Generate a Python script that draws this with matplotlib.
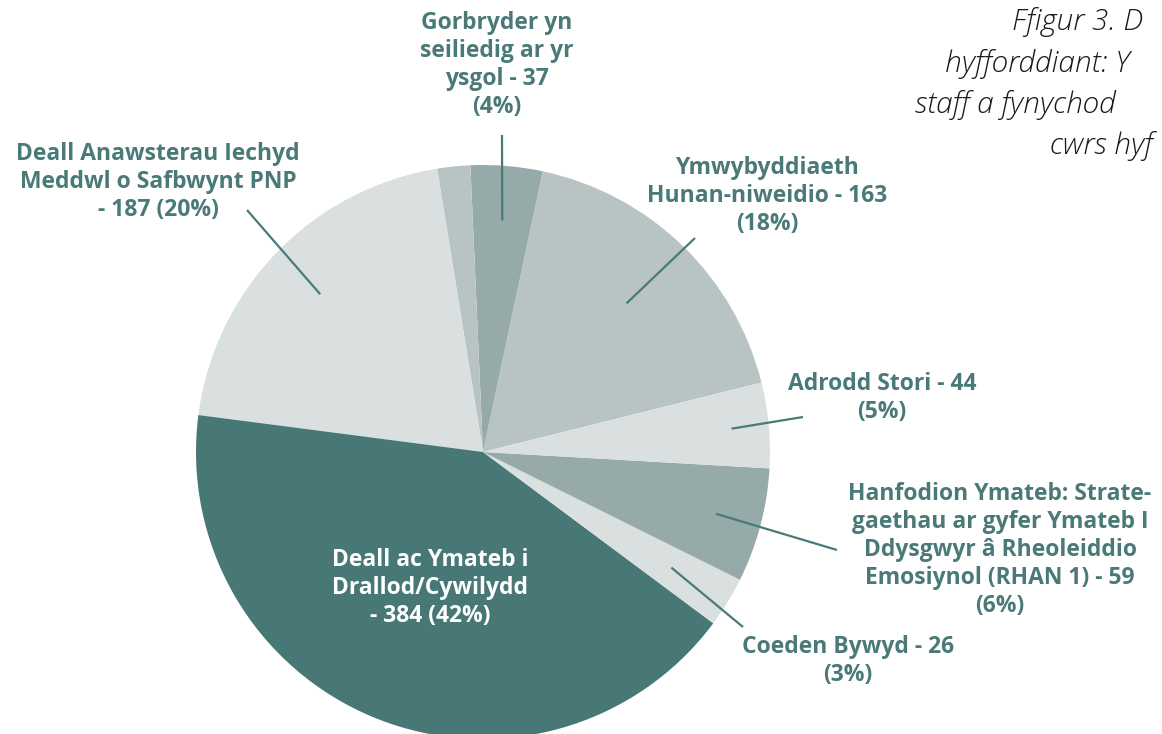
import numpy as np
import matplotlib
matplotlib.use("Agg")
import matplotlib.pyplot as plt

# slices in drawing order (counter-clockwise from startangle)
labels = ["Ymwybyddiaeth\nHunan-niweidio - 163\n(18%)",
          "Gorbryder yn\nseiliedig ar yr\nysgol - 37\n(4%)",
          "",
          "Deall Anawsterau Iechyd\nMeddwl o Safbwynt PNP\n- 187 (20%)",
          "Deall ac Ymateb i\nDrallod/Cywilydd\n- 384 (42%)",
          "Coeden Bywyd - 26\n(3%)",
          "Hanfodion Ymateb: Strate-\ngaethau ar gyfer Ymateb I\nDdysgwyr â Rheoleiddio\nEmosiynol (RHAN 1) - 59\n(6%)",
          "Adrodd Stori - 44\n(5%)"]
values = [163, 37, 17, 187, 384, 26, 59, 44]
colors = ["#b8c4c3", "#95aaa9", "#b8c4c3", "#dadfe0", "#477876",
          "#dadfe0", "#95aaa9", "#dadfe0"]

title_lines = ["Ffigur 3. D", "hyfforddiant: Y", "staff a fynychod", "cwrs hyf"]

teal = "#4a7a78"
W, H = 1162, 734

fig = plt.figure(figsize=(W / 100, H / 100), dpi=100)
ax = fig.add_axes([0, 0, 1, 1])

cx, cy, R = 483, H - 452, 287
wedges, _ = ax.pie(values, colors=colors, startangle=14, counterclock=True,
                   center=(cx, cy), radius=R, frame=True,
                   wedgeprops=dict(linewidth=0))
ax.set_xlim(0, W)
ax.set_ylim(0, H)
ax.set_aspect("equal")
ax.axis("off")

# label anchor (image px, centre of text block), leader outer end, leader inner radius
layout = {
    0: ((767, 196), (695, 238), 0.72),
    1: ((497, 65), (502, 135), 0.81),
    3: ((158, 182), (247, 210), 0.79),
    4: ((430, 588), None, None),
    5: ((848, 661), (743, 627), 0.77),
    6: ((1000, 550), (837, 550), 0.84),
    7: ((882, 398), (803, 417), 0.87),
}

for i, w in enumerate(wedges):
    if i not in layout:
        continue
    (tx, ty), outer, rr = layout[i]
    col = "white" if i == 4 else teal
    ax.text(tx, H - ty, labels[i], ha="center", va="center", color=col,
            fontsize=16.5, fontweight="bold", family="Open Sans", linespacing=1.22)
    if outer is not None:
        mid = np.deg2rad((w.theta1 + w.theta2) / 2)
        ix, iy = cx + rr * R * np.cos(mid), cy + rr * R * np.sin(mid)
        ax.plot([ix, outer[0]], [iy, H - outer[1]], color=teal, lw=1.6,
                solid_capstyle="butt")

# title, cut off by the right edge like in the source
title_x = [1012, 945, 915, 1050]
title_y = [22, 64, 105, 146]
for s, x, y in zip(title_lines, title_x, title_y):
    ax.text(x, H - y, s, ha="left", va="center", fontsize=21.5, style="italic",
            fontweight="light", family="Open Sans", color="#1a1a1a")

fig.savefig("out.png", dpi=100)
